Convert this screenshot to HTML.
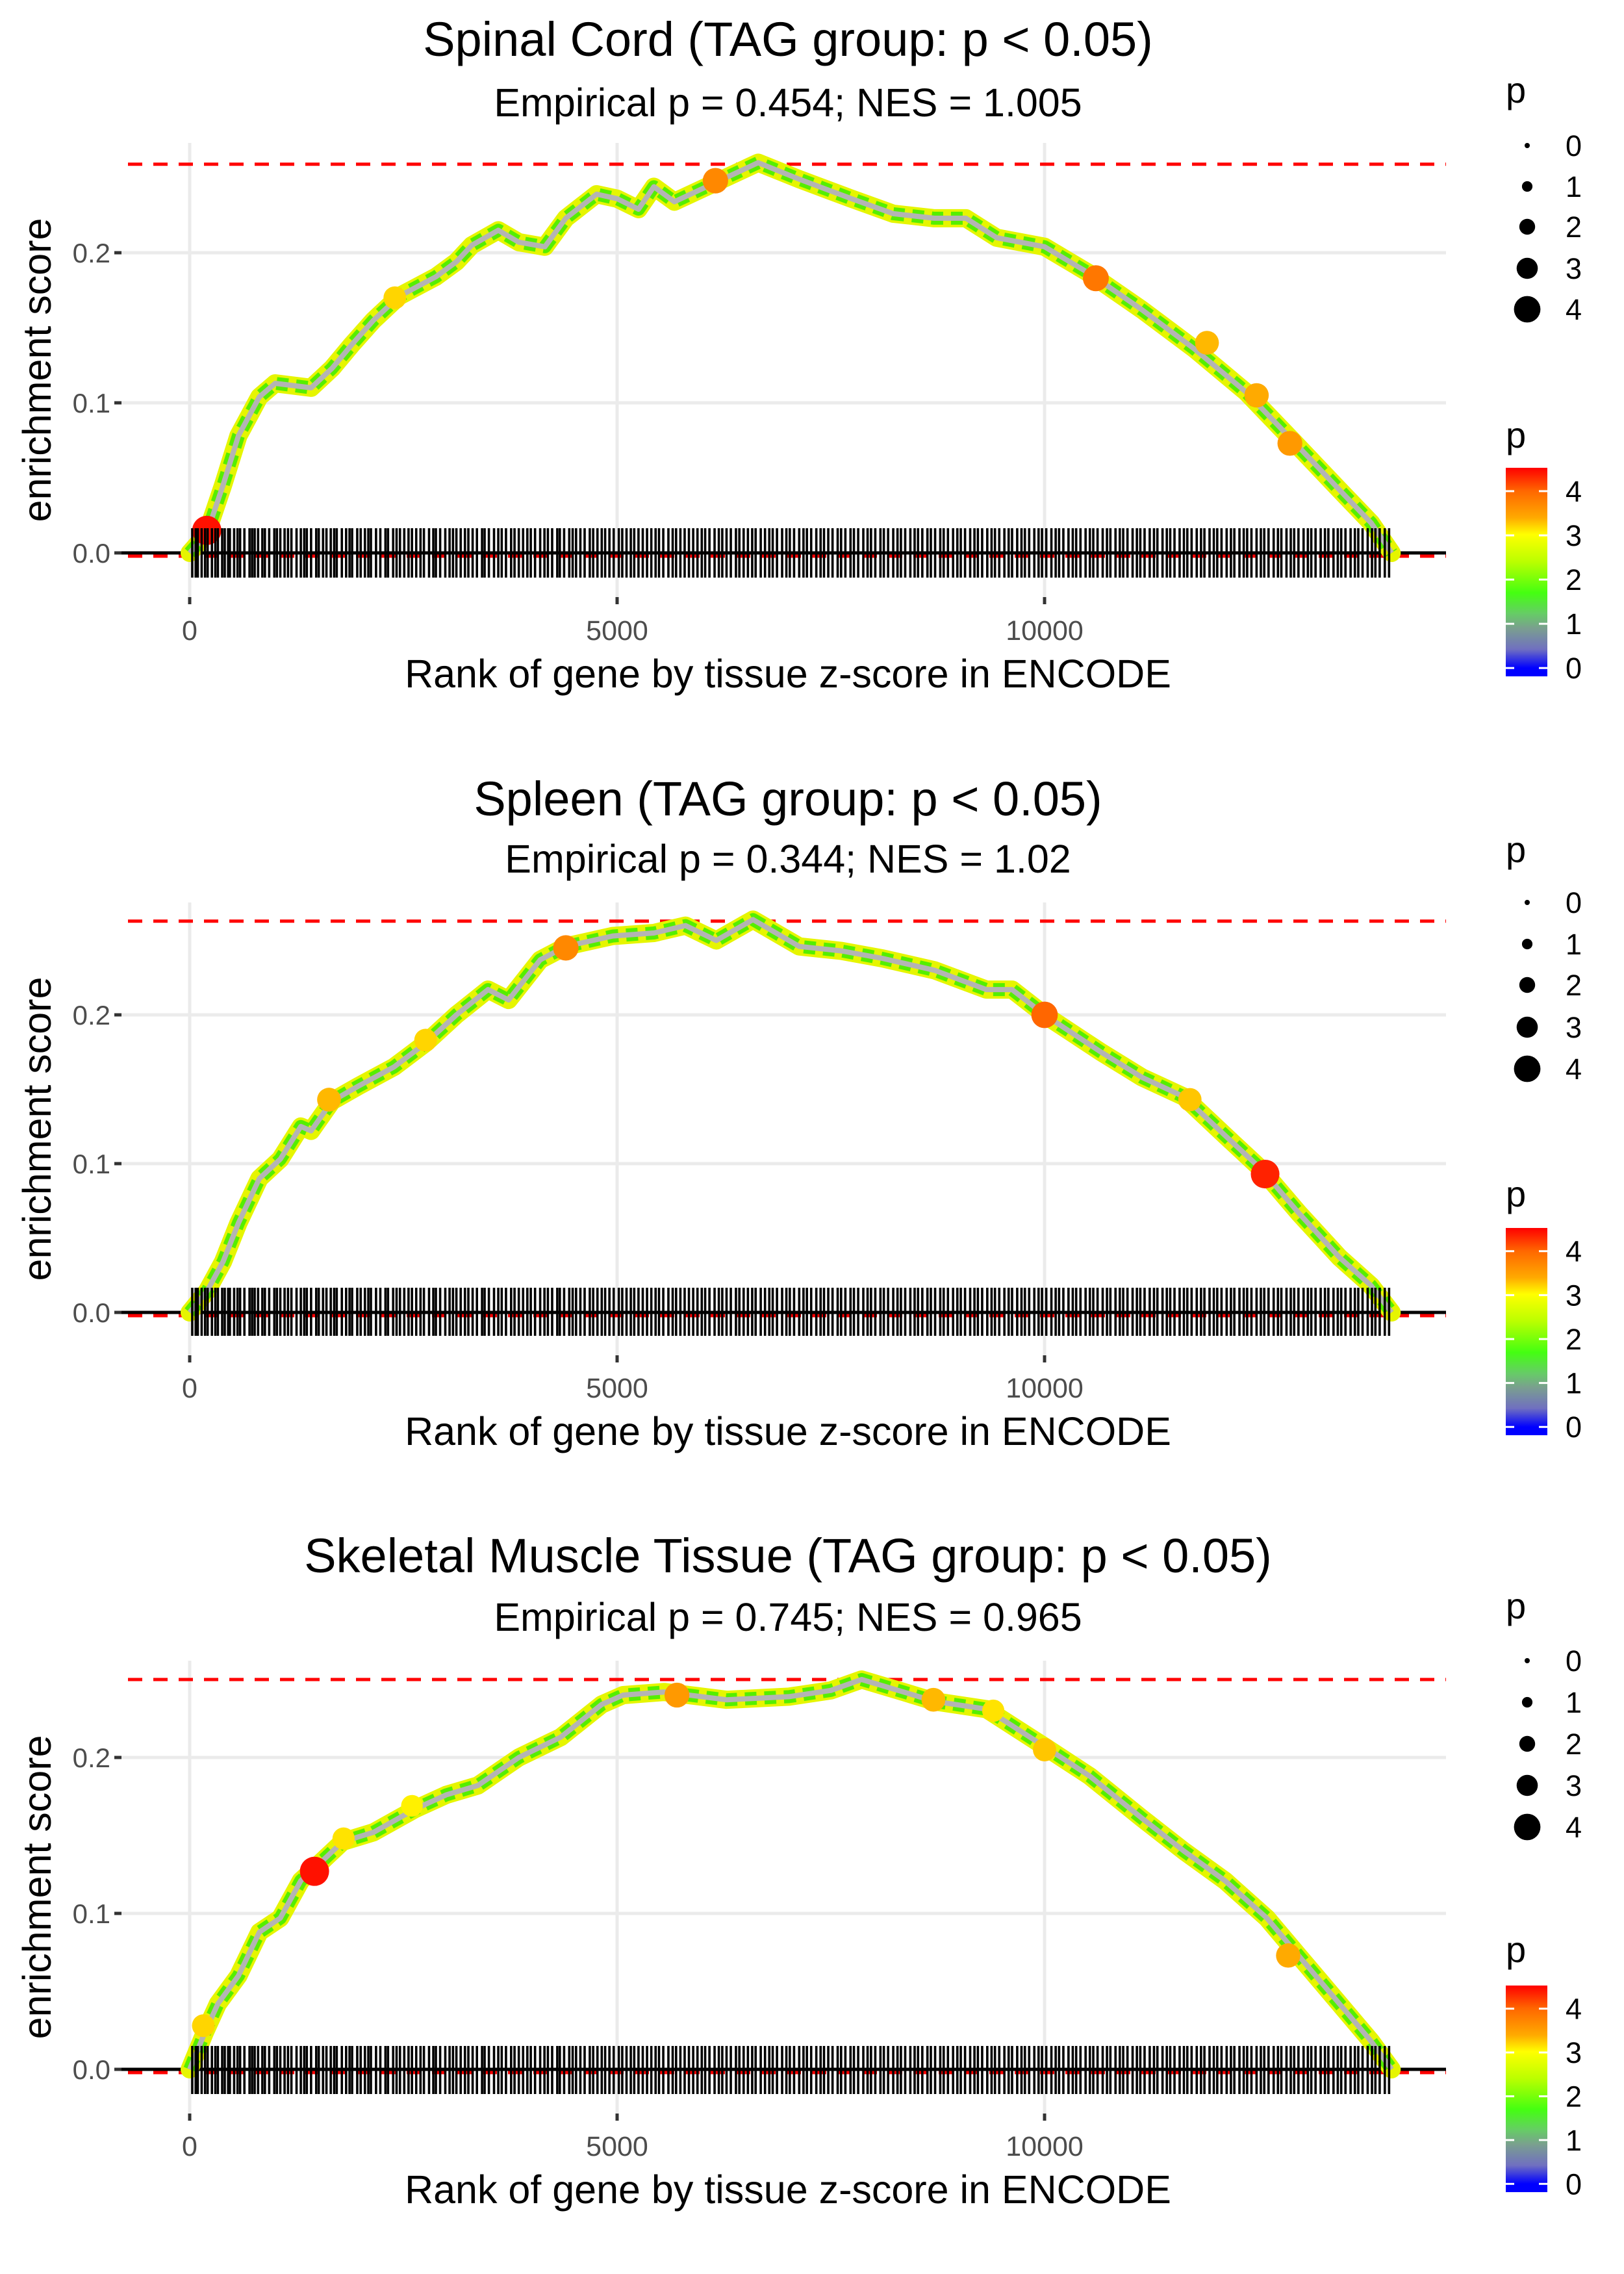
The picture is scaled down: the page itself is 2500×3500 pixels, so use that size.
<!DOCTYPE html>
<html><head><meta charset="utf-8">
<style>
html,body{margin:0;padding:0;background:#fff;}
svg{display:block;font-family:"Liberation Sans",sans-serif;}
</style></head>
<body>
<svg id="chart" width="2500" height="3500" viewBox="0 0 2500 3500" xmlns="http://www.w3.org/2000/svg">
<defs>
<linearGradient id="pgrad" x1="0" y1="0" x2="0" y2="1">
<stop offset="0" stop-color="#ff0000"/>
<stop offset="0.11" stop-color="#ff6600"/>
<stop offset="0.24" stop-color="#ffaa00"/>
<stop offset="0.32" stop-color="#ffff00"/>
<stop offset="0.45" stop-color="#bbff00"/>
<stop offset="0.6" stop-color="#44ff11"/>
<stop offset="0.7" stop-color="#66cc66"/>
<stop offset="0.77" stop-color="#7a9f8f"/>
<stop offset="0.87" stop-color="#7070c0"/>
<stop offset="0.96" stop-color="#0000ff"/>
<stop offset="1" stop-color="#0000ff"/>
</linearGradient>
</defs>
</svg>
<script>
// ---- data ----
const titles = ["Spinal Cord (TAG group: p < 0.05)","Spleen (TAG group: p < 0.05)","Skeletal Muscle Tissue (TAG group: p < 0.05)"];
const subtitles = ["Empirical p = 0.454; NES = 1.005","Empirical p = 0.344; NES = 1.02","Empirical p = 0.745; NES = 0.965"];
const maxES = [0.259, 0.263, 0.25];
const xTicks = [0, 5000, 10000];
const yTicks = [0.0, 0.1, 0.2];
const sizeLegend = [0,1,2,3,4];
const colorTicks = [0,1,2,3,4];
const ranks1 = [0,200,390,570,815,1000,1420,1665,1900,2150,2450,2880,3120,3300,3610,3850,4155,4400,4760,5000,5250,5430,5670,6160,6650,7130,7740,8230,8710,9080,9440,10000,10530,11140,11750,12360,12900,13450,13820,14060];
const es1 = [0,0.013,0.045,0.078,0.104,0.113,0.11,0.123,0.139,0.155,0.171,0.184,0.194,0.205,0.215,0.207,0.204,0.223,0.239,0.236,0.229,0.244,0.234,0.247,0.26,0.249,0.236,0.226,0.223,0.223,0.21,0.204,0.186,0.162,0.136,0.107,0.075,0.042,0.02,0];
const ranks2 = [0,200,390,570,815,1060,1300,1420,1665,1970,2390,2760,3120,3490,3730,4100,4400,4950,5430,5800,6160,6590,7130,7620,8100,8710,9320,9620,10000,10660,11140,11630,12110,12540,12970,13450,13820,14060];
const es2 = [0,0.014,0.034,0.06,0.09,0.103,0.125,0.122,0.142,0.152,0.165,0.181,0.2,0.217,0.21,0.237,0.246,0.253,0.255,0.26,0.25,0.264,0.246,0.243,0.238,0.23,0.217,0.217,0.2,0.175,0.158,0.145,0.119,0.096,0.067,0.037,0.018,0];
const ranks3 = [0,180,330,570,815,1060,1300,1480,1790,2150,2640,3000,3370,3850,4340,4820,5070,5550,6280,7010,7500,7860,8350,8710,9320,10000,10530,11140,11630,12110,12600,12970,13450,13820,14060];
const es3 = [0,0.024,0.042,0.06,0.088,0.097,0.121,0.13,0.146,0.152,0.167,0.176,0.182,0.2,0.213,0.234,0.24,0.242,0.237,0.239,0.243,0.25,0.242,0.236,0.231,0.207,0.188,0.161,0.14,0.121,0.097,0.073,0.042,0.018,0];
const hiRanks1 = [200,2400,6150,10600,11900,12480,12870];
const hiES1 = [0.015,0.17,0.248,0.183,0.14,0.105,0.073];
const hiP1 = [4.5,3.3,3.8,3.9,3.5,3.6,3.7];
const hiRanks2 = [1630,2760,4400,10000,11700,12580];
const hiES2 = [0.143,0.183,0.245,0.2,0.143,0.093];
const hiP2 = [3.5,3.3,3.8,4.0,3.4,4.4];
const hiRanks3 = [160,1460,1800,2600,5700,8700,9400,10000,12850];
const hiES3 = [0.028,0.127,0.148,0.169,0.24,0.237,0.23,0.205,0.073];
const hiP3 = [3.3,4.5,3.2,3.1,3.7,3.5,3.2,3.4,3.6];
const rugRanks = "30 70 95 140 180 210 260 300 330 380 410 450 470 520 560 590 640 700 730 760 800 850 880 930 990 1020 1060 1110 1150 1190 1250 1300 1340 1370 1420 1480 1510 1560 1600 1650 1690 1720 1780 1830 1870 1900 1960 2000 2050 2090 2120 2180 2230 2290 2320 2380 2420 2460 2510 2560 2600 2650 2700 2740 2800 2850 2880 2930 2990 3040 3080 3120 3170 3220 3260 3310 3360 3420 3450 3500 3560 3610 3650 3700 3760 3800 3850 3900 3950 3990 4040 4100 4150 4190 4240 4300 4330 4380 4440 4480 4520 4570 4620 4680 4720 4770 4820 4860 4910 4960 5020 5060 5110 5160 5200 5250 5300 5350 5400 5450 5490 5540 5600 5650 5690 5740 5790 5840 5890 5940 5990 6030 6080 6140 6190 6230 6280 6330 6390 6430 6480 6530 6580 6620 6680 6730 6780 6820 6870 6930 6980 7020 7070 7130 7180 7220 7270 7330 7380 7420 7470 7520 7580 7620 7670 7730 7770 7820 7880 7930 7970 8020 8080 8120 8170 8230 8280 8320 8370 8430 8480 8520 8570 8630 8670 8720 8780 8820 8870 8930 8980 9020 9070 9130 9180 9220 9270 9330 9380 9420 9470 9530 9580 9620 9680 9730 9770 9820 9880 9930 9970 10020 10080 10130 10170 10220 10280 10330 10370 10420 10480 10530 10570 10620 10680 10730 10770 10830 10880 10920 10970 11030 11080 11120 11170 11230 11280 11320 11380 11430 11470 11520 11580 11630 11670 11720 11780 11830 11870 11930 11980 12020 12070 12130 12180 12220 12280 12330 12370 12420 12480 12530 12570 12620 12680 12730 12770 12830 12880 12920 12970 13030 13080 13120 13170 13230 13280 13320 13380 13430 13470 13520 13580 13630 13670 13720 13780 13830 13870 13920 13980 14030".split(" ").map(Number);

// ---- layout (real px) ----
const panels = [
 {titleY:60, subY:158, y0:851, y1:620, legP:138, dots:[224,287,349,413,476], cbP:669, cbTop:720, cbBot:1041, rugTop:813, rugBot:889, tickY:970, xtY:1037, top:220},
 {titleY:1229, subY:1322, y0:2020, y1:1791, legP:1307, dots:[1389,1453,1516,1581,1645], cbP:1837, cbTop:1890, cbBot:2209, rugTop:1982, rugBot:2056, tickY:2136, xtY:2203, top:1389},
 {titleY:2394, subY:2489, y0:3185, y1:2945, legP:2471, dots:[2556,2620,2684,2748,2812], cbP:3000, cbTop:3056, cbBot:3374, rugTop:3149, rugBot:3223, tickY:3303, xtY:3370, top:2556}
];
const rankSets=[ranks1,ranks2,ranks3], esSets=[es1,es2,es3];
const hiR=[hiRanks1,hiRanks2,hiRanks3], hiE=[hiES1,hiES2,hiES3], hiPs=[hiP1,hiP2,hiP3];
const NS="http://www.w3.org/2000/svg";
const svg=document.getElementById('chart');
function mk(tag,attrs,parent,text){const e=document.createElementNS(NS,tag);for(const k in attrs)e.setAttribute(k,attrs[k]);if(text!==undefined)e.textContent=text;(parent||svg).appendChild(e);return e;}
const X0=292, XK=0.1316, PL=187, PR=2226;
function xs(r){return X0+r*XK;}
function pColor(p){
  const stops=[[0,[0,0,255]],[0.5,[120,120,190]],[1,[122,160,143]],[1.4,[80,230,60]],[1.8,[70,255,17]],[2.4,[200,255,0]],[3,[255,255,0]],[3.6,[255,170,0]],[4,[255,102,0]],[4.6,[255,0,0]]];
  for(let i=1;i<stops.length;i++){if(p<=stops[i][0]){const a=stops[i-1],b=stops[i];const t=(p-a[0])/(b[0]-a[0]);const c=a[1].map((v,j)=>Math.round(v+(b[1][j]-v)*t));return `rgb(${c})`;}}
  return 'rgb(255,0,0)';
}
function rad(p){return 4+p*4.1;}

panels.forEach((P,i)=>{
  const g=mk('g',{});
  
  
  const ys=v=>P.y0-(P.y0-P.y1)*v/0.1;
  yTicks.forEach(t=>{const l=mk('line',{x1:PL,x2:PR,y1:ys(t),y2:ys(t),stroke:'#ebebeb','stroke-width':5},g);});
  xTicks.forEach(t=>{const l=mk('line',{x1:xs(t),x2:xs(t),y1:P.top,y2:P.rugBot+30,stroke:'#ebebeb','stroke-width':5},g);});
  const d1=mk('line',{x1:PL+10,x2:PR,y1:ys(maxES[i]),y2:ys(maxES[i]),stroke:'#ff0000','stroke-width':5,'stroke-dasharray':'22,17'},g);
  
  
  const d2=mk('line',{x1:PL+10,x2:PR,y1:P.y0+5,y2:P.y0+5,stroke:'#ff0000','stroke-width':5,'stroke-dasharray':'22,17'},g);
  
  
  const z=mk('line',{x1:PL,x2:PR,y1:P.y0,y2:P.y0,stroke:'#000','stroke-width':5},g);
  
  
  const pts=rankSets[i].map((r,k)=>xs(r).toFixed(1)+','+ys(esSets[i][k]).toFixed(1)).join(' ');
  const c1=mk('polyline',{points:pts,fill:'none',stroke:'#e6f500','stroke-width':28,'stroke-linejoin':'round','stroke-linecap':'round'},g);
  
  
  const c2=mk('polyline',{points:pts,fill:'none',stroke:'#55ee00','stroke-width':20,'stroke-linejoin':'round','stroke-dasharray':'18,12'},g);
  
  
  const c3=mk('polyline',{points:pts,fill:'none',stroke:'#b4b4b4','stroke-width':8,'stroke-linejoin':'round'},g);
  
  
  hiR[i].forEach((r,k)=>{const p=hiPs[i][k];const c=mk('circle',{cx:xs(r),cy:ys(hiE[i][k]),r:rad(p),fill:pColor(p)},g);});
  const rg=mk('g',{stroke:'#000','stroke-width':3.6},g);
  
  
  rugRanks.forEach(r=>{const l=mk('line',{x1:xs(r),x2:xs(r),y1:P.rugTop,y2:P.rugBot},rg);});
  yTicks.forEach(t=>{
    const tk=mk('line',{x1:176,x2:187,y1:ys(t),y2:ys(t),stroke:'#333','stroke-width':5},g);
    const tx=mk('text',{x:170,y:ys(t)+15,'text-anchor':'end','font-size':42,fill:'#4d4d4d'},g,t.toFixed(1));
  });
  xTicks.forEach(t=>{
    const tk=mk('line',{x1:xs(t),x2:xs(t),y1:P.rugBot+30,y2:P.rugBot+41,stroke:'#333','stroke-width':5},g);
    const tx=mk('text',{x:xs(t),y:P.tickY+15,'text-anchor':'middle','font-size':43,fill:'#4d4d4d'},g,String(t));
  });
  const t1=mk('text',{x:1213,y:P.titleY+26,'text-anchor':'middle','font-size':74,fill:'#000'},g,titles[i]);
  
  
  const t2=mk('text',{x:1213,y:P.subY+21,'text-anchor':'middle','font-size':61,fill:'#000'},g,subtitles[i]);
  
  
  const xt=mk('text',{x:1213,y:P.xtY+21,'text-anchor':'middle','font-size':61,fill:'#000'},g,'Rank of gene by tissue z-score in ENCODE');
  
  
  const ymid=(P.top+P.rugBot+30)/2;
  const yt=mk('text',{x:0,y:0,'text-anchor':'middle','font-size':61,fill:'#000',transform:`translate(78,${ymid}) rotate(-90)`},g,'enrichment score');
  
  
  const lp=mk('text',{x:2318,y:P.legP+20,'font-size':56,fill:'#000'},g,'p');
  
  
  sizeLegend.forEach((s,k)=>{
    const c=mk('circle',{cx:2351,cy:P.dots[k],r:rad(s),fill:'#000'},g);
    const tx=mk('text',{x:2410,y:P.dots[k]+16,'font-size':45,fill:'#000'},g,String(s));
  });
  const cp=mk('text',{x:2318,y:P.cbP+20,'font-size':56,fill:'#000'},g,'p');
  
  
  const cb=mk('rect',{x:2318,y:P.cbTop,width:64,height:P.cbBot-P.cbTop,fill:'url(#pgrad)'},g);
  
  
  const H=P.cbBot-P.cbTop;
  colorTicks.forEach(v=>{
    const y=P.cbTop+H*(0.96-v*0.212);
    const a=mk('line',{x1:2318,x2:2331,y1:y,y2:y,stroke:'#fff','stroke-width':3},g);
    const b=mk('line',{x1:2369,x2:2382,y1:y,y2:y,stroke:'#fff','stroke-width':3},g);
    const tx=mk('text',{x:2410,y:y+16,'font-size':45,fill:'#000'},g,String(v));
  });
});
</script>
</body></html>
